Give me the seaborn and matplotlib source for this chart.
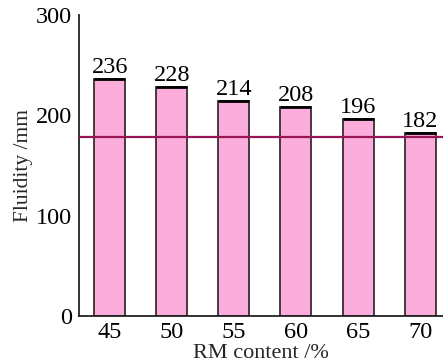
import matplotlib
matplotlib.use("Agg")
import matplotlib.pyplot as plt
import seaborn as sns
import pandas as pd

# RM content (%) and measured fluidity (mm)
rm_content = ["45", "50", "55", "60", "65", "70"]
fluidity = [236, 228, 214, 208, 196, 182]
reference_fluidity = 178
y_ticks = [0, 100, 200, 300]

sns.set_theme(style="white")
plt.rcParams["font.family"] = ["Liberation Serif", "DejaVu Serif"]

df = pd.DataFrame({"rm": rm_content, "fluidity": fluidity})

fig = plt.figure(figsize=(4.43, 3.64), dpi=100)
ax = fig.add_axes([0.178, 0.132, 0.822, 0.827])

bar_fill = "#fbaedb"
edge = "#3b2b33"
sns.barplot(data=df, x="rm", y="fluidity", color=bar_fill, saturation=1,
            width=0.5, edgecolor=edge, linewidth=1.3, ax=ax, zorder=2)

# heavier top edge on each bar and the value above it
for i, v in enumerate(fluidity):
    ax.hlines(v, i - 0.25, i + 0.25, color="black", linewidth=2.0, zorder=4)
    ax.text(i, v + 1.0, str(v), ha="center", va="bottom", fontsize=17.5,
            color="black", zorder=5)

ax.axhline(reference_fluidity, color="#9a1556", linewidth=1.6, zorder=3)

ax.set_xlim(-0.5, 5.37)
ax.set_ylim(0, 300)
ax.set_yticks(y_ticks)
ax.set_yticklabels([str(t) for t in y_ticks])

ax.set_xlabel("RM content /%", fontsize=16, labelpad=1)
ax.set_ylabel("Fluidity /mm", fontsize=15.5, labelpad=2)

for side in ("top", "right"):
    ax.spines[side].set_visible(False)
for side in ("left", "bottom"):
    ax.spines[side].set_color("#222222")
    ax.spines[side].set_linewidth(1.3)

ax.tick_params(axis="both", direction="in", length=5, width=1.2,
               colors="#222222", labelsize=17.5, labelcolor="black")
ax.tick_params(axis="x", pad=4)
ax.tick_params(axis="y", pad=5)

fig.savefig("out.png", dpi=100)
